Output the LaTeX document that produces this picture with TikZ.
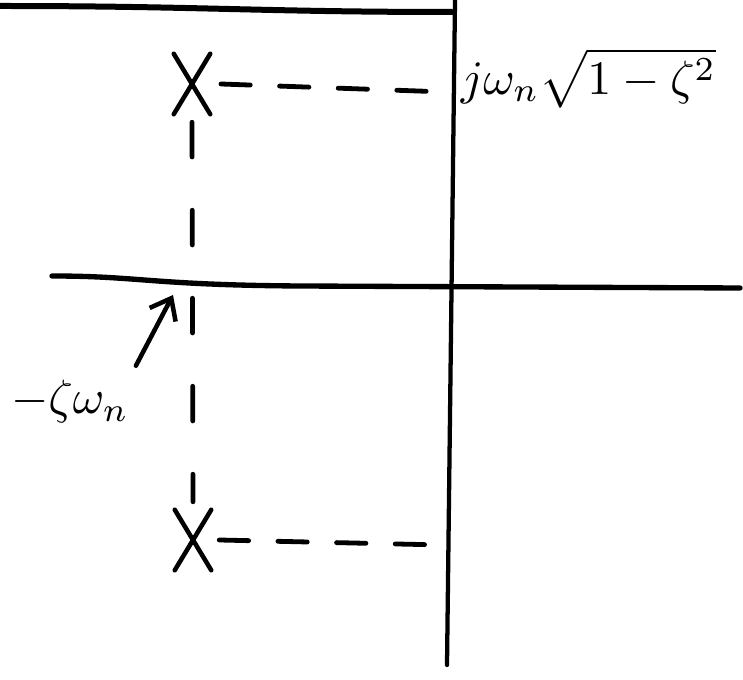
\documentclass[tikz,border=0pt]{standalone}
\usetikzlibrary{shapes.misc,arrows.meta}
\begin{document}
\begin{tikzpicture}[x=0.75pt,y=-0.75pt,line cap=round,line join=round,
  axis/.style={line width=3.2pt},
  dsh/.style={line width=3.6pt,dash pattern=on 22pt off 22pt},
  vdsh/.style={line width=3.6pt,dash pattern=on 26pt off 40pt},
  pole/.style={cross out,draw,line width=3.4pt,minimum width=24pt,minimum height=42pt,inner sep=0pt},
  lab/.style={inner sep=0pt}]
\useasboundingbox (0,0) rectangle (743,680);
% frame line at top
\coordinate (t0) at (0,6);
\coordinate (t1) at (452,12);
\draw[line width=4.5pt] (t0) .. controls (200,6) and (260,12) .. (t1);
% axes
\coordinate (vtop) at (455,0);
\coordinate (vbot) at (447,665);
\draw[axis] (vtop) -- (vbot);
\coordinate (hl) at (52,276);
\coordinate (hr) at (740,288);
\draw[axis,line width=4pt] (hl) .. controls (140,276) and (150,285) .. (300,286) -- (hr);
% poles
\node[pole] (p1) at (192,84) {};
\node[pole] (p2) at (193,540) {};
% dashed projections
\coordinate (ja) at (446,92);
\coordinate (jb) at (442,545);
\draw[dsh] ([xshift=8pt]p1.east) -- (ja);
\draw[dsh] ([xshift=6pt]p2.east) -- (jb);
\draw[vdsh] ([yshift=-6pt]p1.south) -- ([yshift=6pt]p2.north);
% labels
\node[lab,anchor=west,scale=3.6] (lbl) at (460,78) {$j\omega_n\sqrt{1-\zeta^2}$};
\node[lab,scale=3.6] (zlbl) at (70,402) {$-\zeta\omega_n$};
\coordinate (tip) at (173,295);
\draw[line width=3.4pt,-{Straight Barb[length=14pt,width=22pt]}] (zlbl.north east) ++(6,-14) -- (tip);
\end{tikzpicture}
\end{document}
